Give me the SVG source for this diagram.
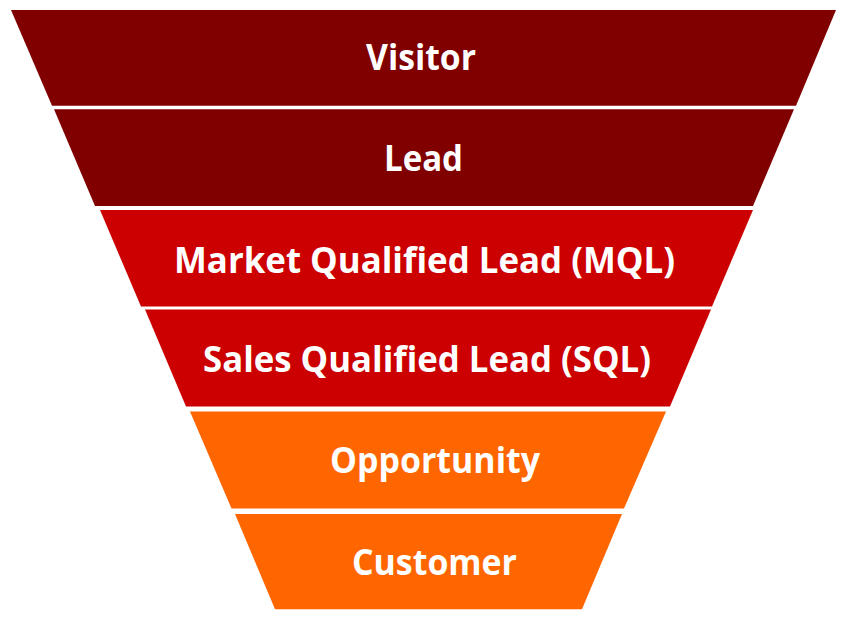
<svg xmlns="http://www.w3.org/2000/svg" width="847" height="617" viewBox="0 0 847 617">
  <style>
    .t { font-family: "Open Sans", "Liberation Sans", Arial, sans-serif; font-weight: bold; font-size: 35.5px; fill: #FFFFFF; }
    .dark { fill: #800000; }
    .red { fill: #CC0000; }
    .orange { fill: #FF6600; }
  </style>
  <rect width="847" height="617" fill="#FFFFFF"/>
  <g id="visitor">
    <polygon class="dark" points="11,10 836,10 796,105.7 52,105.7"/>
    <text class="t" x="366" y="70" textLength="110" lengthAdjust="spacingAndGlyphs">Visitor</text>
  </g>
  <g id="lead">
    <polygon class="dark" points="54,109.3 794,109.3 753,206 95,206"/>
    <text class="t" x="384" y="171" textLength="79" lengthAdjust="spacingAndGlyphs">Lead</text>
  </g>
  <g id="mql">
    <polygon class="red" points="100,210 753,210 712,306.5 141,306.5"/>
    <text class="t" x="174" y="272.5" textLength="501" lengthAdjust="spacingAndGlyphs">Market Qualified Lead (MQL)</text>
  </g>
  <g id="sql">
    <polygon class="red" points="145,309.5 711,309.5 670,406.5 186,406.5"/>
    <text class="t" x="203" y="372" textLength="448" lengthAdjust="spacingAndGlyphs">Sales Qualified Lead (SQL)</text>
  </g>
  <g id="opportunity">
    <polygon class="orange" points="190,411.5 666,411.5 624,508.5 231.5,508.5"/>
    <text class="t" x="330" y="473" textLength="210" lengthAdjust="spacingAndGlyphs">Opportunity</text>
  </g>
  <g id="customer">
    <polygon class="orange" points="235,514 622,514 582,609.3 275,609.3"/>
    <text class="t" x="352" y="575" textLength="165" lengthAdjust="spacingAndGlyphs">Customer</text>
  </g>
  <g id="connectors"/>
</svg>
